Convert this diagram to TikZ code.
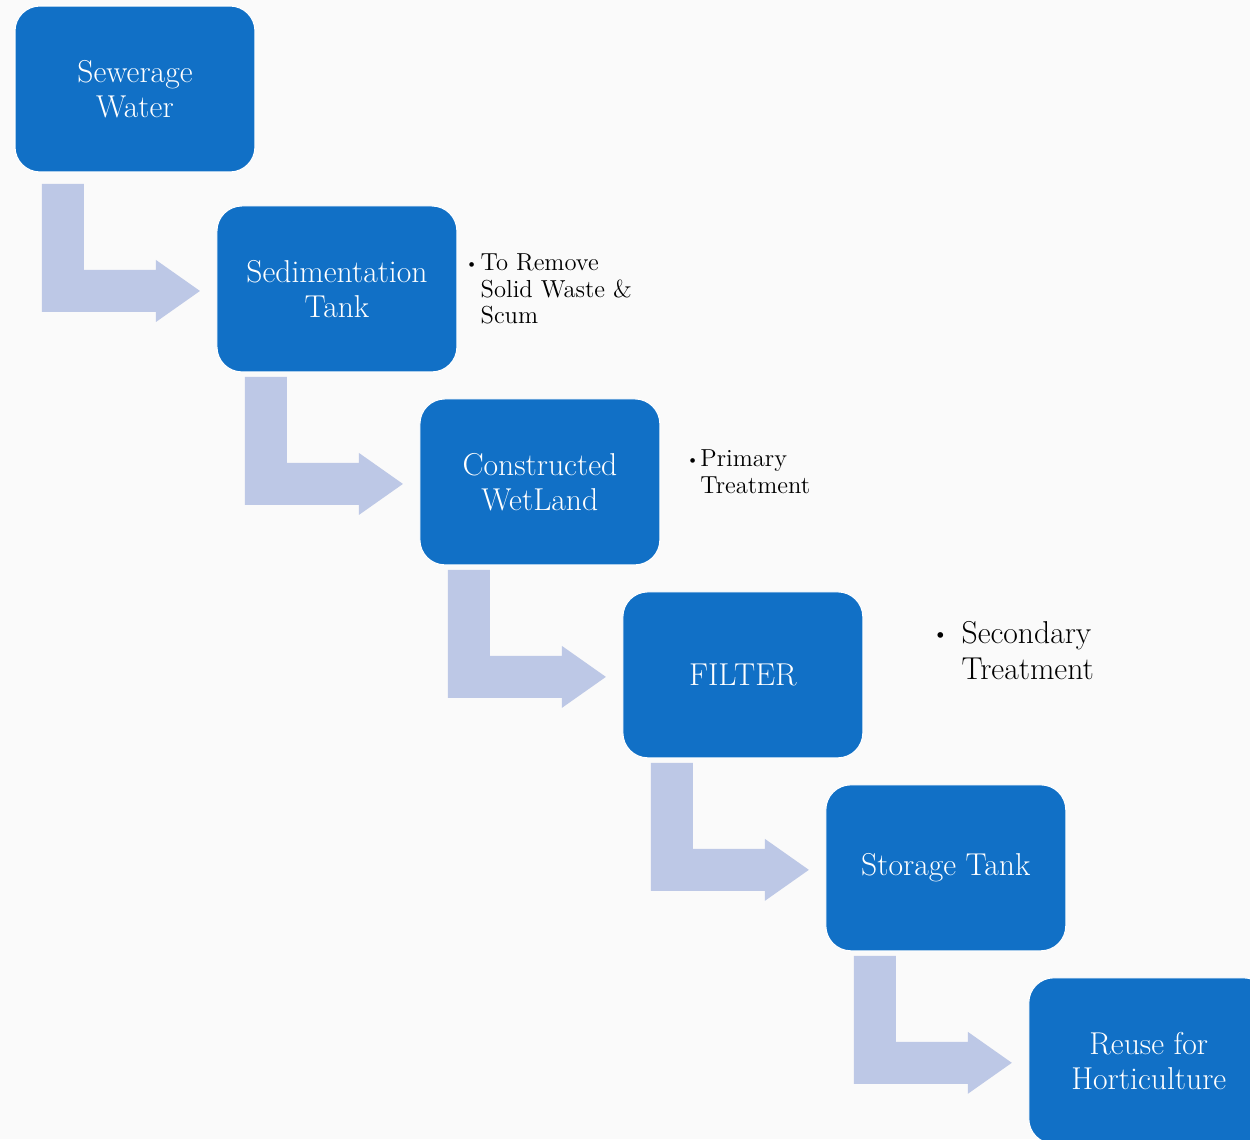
\documentclass[tikz,border=0pt]{standalone}
\usepackage{tikz}
\usetikzlibrary{positioning, calc}
\definecolor{boxblue}{RGB}{17,112,198}
\definecolor{flowgrey}{RGB}{189,200,230}
\definecolor{paper}{RGB}{250,250,250}

\begin{document}
\begin{tikzpicture}[
  x=0.02cm, y=-0.02cm,
  stage/.style={rectangle, rounded corners=5mm, fill=boxblue, draw=white, line width=0.6pt,
    text=white, minimum width=48mm, minimum height=33.2mm, inner sep=0pt, outer sep=0pt,
    align=center, font=\fontsize{18}{20}\selectfont},
  flow/.style={fill=flowgrey},
  note/.style={anchor=north west, inner sep=0pt, align=left}
]
\clip (0,0) rectangle (1250,1139);
\fill[paper] (0,0) rectangle (1250,1139);

\node[stage, anchor=north west] (sewer) at (15,6) {Sewerage\\Water};
\node[stage, below right=6.8mm and -7.6mm of sewer] (sedi) {Sedimentation\\Tank};
\node[stage, below right=5.4mm and -7.4mm of sedi] (wetland) {Constructed\\WetLand};
\node[stage, below right=5.4mm and -7.4mm of wetland] (filter) {FILTER};
\node[stage, below right=5.4mm and -7.4mm of filter] (storage) {Storage Tank};
\node[stage, below right=5.4mm and -7.4mm of storage] (reuse) {Reuse for\\Horticulture};

% bent arrows into each stage
\foreach \t in {sedi, wetland, filter, storage, reuse}
  \fill[flow] ($(\t.north west)+(-175,-22)$) -- ++(42,0) -- ++(0,86) -- ++(72,0)
    -- ++(0,-10) -- ++(44,31) -- ++(-44,31) -- ++(0,-10) -- ++(-114,0) -- cycle;

\node[note, font=\fontsize{14}{15}\selectfont] (note1) at (465,252)
  {\begin{tabular}{@{}l@{\hspace{1.5pt}}l@{}}
   \raisebox{1.5pt}{\fontsize{9}{9}\selectfont\textbullet} & To Remove\\
   & Solid Waste \&\\
   & Scum
   \end{tabular}};
\node[note, font=\fontsize{14}{15}\selectfont] (note2) at (686,448)
  {\begin{tabular}{@{}l@{\hspace{0.8pt}}l@{}}
   \raisebox{1.5pt}{\fontsize{9}{9}\selectfont\textbullet} & Primary\\
   & Treatment
   \end{tabular}};
\node[note, font=\fontsize{18}{20}\selectfont] (note3) at (932,619)
  {\begin{tabular}{@{}l@{\hspace{7.5pt}}l@{}}
   \raisebox{2pt}{\fontsize{12}{12}\selectfont\textbullet} & Secondary\\
   & Treatment
   \end{tabular}};
\end{tikzpicture}
\end{document}
